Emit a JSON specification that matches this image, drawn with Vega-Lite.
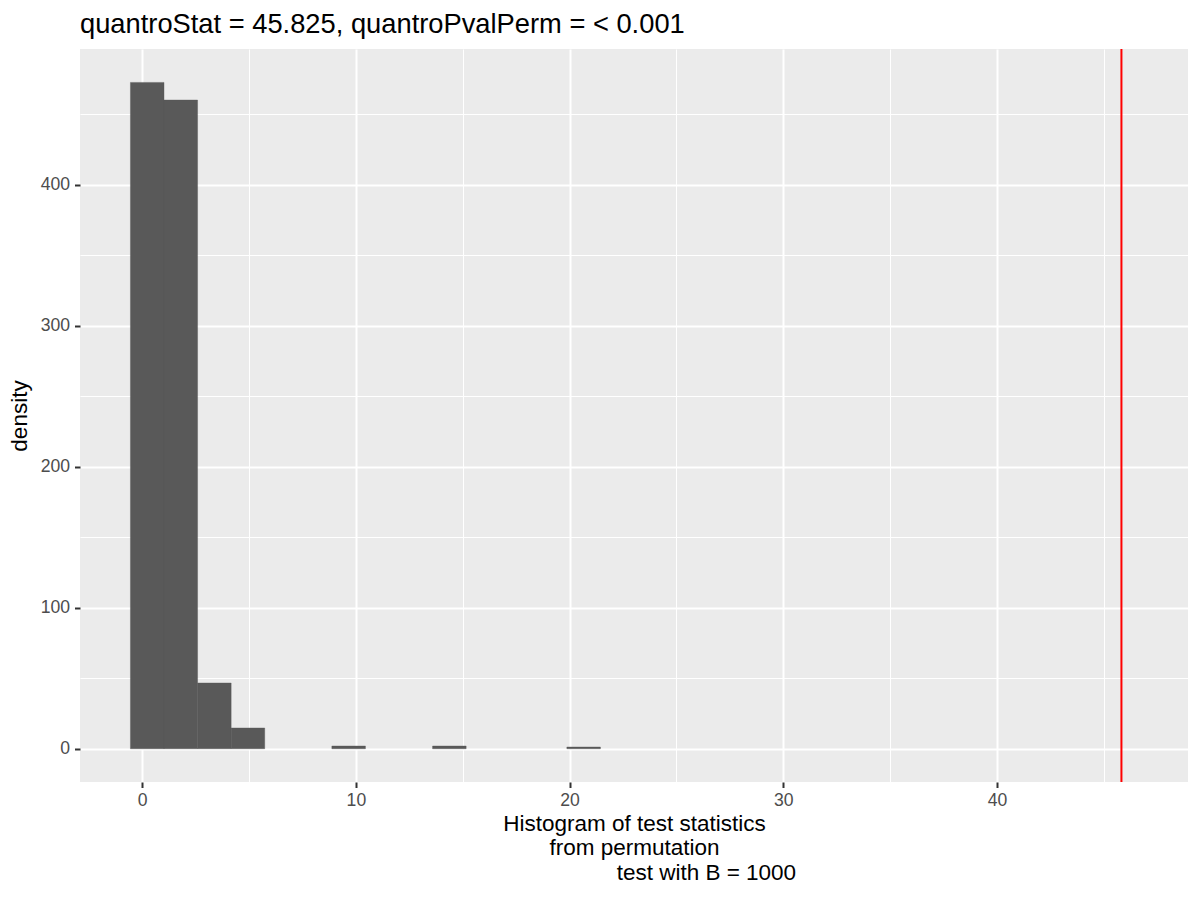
{
  "$schema": "https://vega.github.io/schema/vega-lite/v6.json",
  "width": 1108,
  "height": 733,
  "autosize": "none",
  "padding": {"left": 80, "top": 49, "right": 12, "bottom": 118},
  "background": "white",
  "config": {
    "view": {"fill": "#EBEBEB", "stroke": null},
    "font": "Liberation Sans",
    "axis": {
      "domain": false,
      "gridColor": "white",
      "tickColor": "#333333",
      "tickSize": 5.5,
      "tickWidth": 2,
      "labelFont": "Liberation Sans",
      "labelFontSize": 17.6,
      "labelColor": "#4D4D4D",
      "titleFont": "Liberation Sans",
      "titleFontSize": 22.5,
      "titleFontWeight": "normal",
      "titleColor": "black"
    }
  },
  "title": {
    "text": "quantroStat = 45.825, quantroPvalPerm = < 0.001",
    "anchor": "start",
    "frame": "group",
    "font": "Liberation Sans",
    "fontSize": 27.3,
    "fontWeight": "normal",
    "color": "black",
    "baseline": "alphabetic",
    "offset": -12
  },
  "layer": [
    {
      "data": {
        "values": [
          {"xmin": -0.55, "xmax": 1.021, "density": 472.5},
          {"xmin": 1.021, "xmax": 2.592, "density": 460},
          {"xmin": 2.592, "xmax": 4.163, "density": 46.6},
          {"xmin": 4.163, "xmax": 5.734, "density": 14.7},
          {"xmin": 8.876, "xmax": 10.447, "density": 1.9},
          {"xmin": 13.589, "xmax": 15.16, "density": 1.9},
          {"xmin": 19.873, "xmax": 21.444, "density": 1.2}
        ]
      },
      "mark": {"type": "bar", "color": "#595959", "stroke": "#595959", "strokeWidth": 0.4},
      "encoding": {
        "x": {
          "field": "xmin",
          "type": "quantitative",
          "scale": {"domain": [-2.91, 48.94], "nice": false, "zero": false},
          "axis": {
            "values": [0, 5, 10, 15, 20, 25, 30, 35, 40, 45],
            "labelExpr": "datum.value % 10 === 0 ? datum.label : ''",
            "gridWidth": {"condition": {"test": "datum.value % 10 !== 0", "value": 1}, "value": 2},
            "tickOpacity": {"condition": {"test": "datum.value % 10 !== 0", "value": 0}, "value": 1},
            "labelPadding": 4,
            "labelFlush": false,
            "title": ["Histogram of test statistics", "from permutation", "\u200b\u00a0\u00a0\u00a0\u00a0\u00a0\u00a0\u00a0\u00a0\u00a0\u00a0\u00a0\u00a0\u00a0\u00a0\u00a0\u00a0\u00a0\u00a0\u00a0\u00a0\u00a0\u00a0\u00a0test with B = 1000"],
            "titleLineHeight": 24.5,
            "titlePadding": 3
          }
        },
        "x2": {"field": "xmax"},
        "y": {
          "field": "density",
          "type": "quantitative",
          "scale": {"domain": [-23.6, 496.2], "nice": false, "zero": false},
          "axis": {
            "values": [0, 50, 100, 150, 200, 250, 300, 350, 400, 450],
            "labelExpr": "datum.value % 100 === 0 ? datum.label : ''",
            "gridWidth": {"condition": {"test": "datum.value % 100 !== 0", "value": 1}, "value": 2},
            "tickOpacity": {"condition": {"test": "datum.value % 100 !== 0", "value": 0}, "value": 1},
            "labelPadding": 5,
            "labelFlush": false,
            "title": "density",
            "titlePadding": 9
          }
        },
        "y2": {"datum": 0}
      }
    },
    {
      "data": {"values": [{"stat": 45.825}]},
      "mark": {"type": "rule", "color": "red", "strokeWidth": 2},
      "encoding": {
        "x": {"field": "stat", "type": "quantitative"}
      }
    }
  ]
}
